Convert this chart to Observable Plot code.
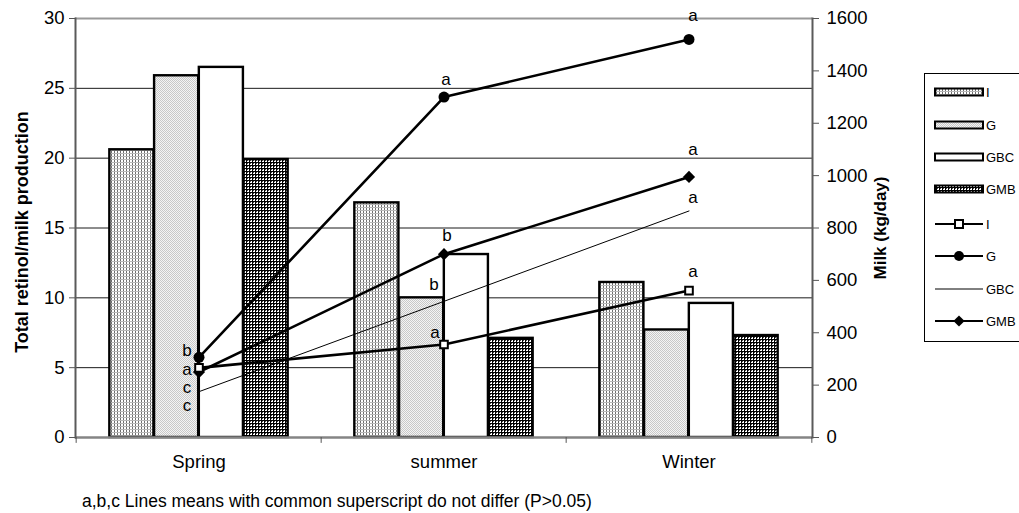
<!DOCTYPE html>
<html>
<head>
<meta charset="utf-8">
<script src="https://cdn.jsdelivr.net/npm/d3@7"></script>
<script src="https://cdn.jsdelivr.net/npm/@observablehq/plot@0.6"></script>
<style>
  html, body { margin: 0; padding: 0; background: #fff; }
  #wrap { position: relative; width: 1019px; height: 513px; overflow: hidden; font-family: "Liberation Sans", Arial, sans-serif; }
  #chart { position: absolute; left: 0; top: 0; }
  #legend { position: absolute; left: 924px; top: 73px; }
  #caption { position: absolute; left: 82px; top: 491px; font-size: 17.5px; color: #000; white-space: nowrap; }
</style>
</head>
<body>
<div id="wrap">
  <svg width="0" height="0" style="position:absolute">
    <defs>
      <pattern id="pI" width="3" height="3" patternUnits="userSpaceOnUse">
        <rect width="3" height="3" fill="#fff"/>
        <rect x="0" y="0" width="1" height="3" fill="#6e6e6e"/>
        <rect x="0" y="0" width="3" height="1" fill="#b8b8b8"/>
      </pattern>
      <pattern id="pG" width="2" height="2" patternUnits="userSpaceOnUse">
        <rect width="2" height="2" fill="#f4f4f4"/>
        <rect x="0" y="0" width="1" height="1" fill="#c8c8c8"/>
        <rect x="1" y="1" width="1" height="1" fill="#c8c8c8"/>
      </pattern>
      <pattern id="pGMB" width="3" height="3" patternUnits="userSpaceOnUse">
        <rect width="3" height="3" fill="#fff"/>
        <rect x="0" y="0" width="1" height="3" fill="#000"/>
        <rect x="0" y="0" width="3" height="1" fill="#000"/>
        <rect x="1" y="1" width="1" height="1" fill="#444"/>
      </pattern>
    </defs>
  </svg>
  <div id="chart"></div>
  <div id="legend"></div>
  <div id="caption">a,b,c Lines means with common superscript do not differ (P&gt;0.05)</div>
</div>
<script>
// ---------- data ----------
const seasons = ["Spring", "summer", "Winter"];
const seriesNames = ["I", "G", "GBC", "GMB"];

// Total retinol / milk production (bars, left axis)
const retinolI   = [20.6, 16.8, 11.1];
const retinolG   = [25.9, 10.0, 7.7];
const retinolGBC = [26.5, 13.1, 9.6];
const retinolGMB = [19.9, 7.1, 7.3];

// Milk (kg/day) (lines, right axis)
const milkI   = [266, 355, 561];
const milkG   = [306, 1300, 1520];
const milkGBC = [175, 520, 865];
const milkGMB = [250, 700, 995];

// Significance letters on the lines
const lettersI   = ["a", "a", "a"];
const lettersG   = ["b", "a", "a"];
const lettersGBC = ["c", "b", "a"];
const lettersGMB = ["c", "b", "a"];

const leftTicks = [0, 5, 10, 15, 20, 25, 30];
const rightTicks = [0, 200, 400, 600, 800, 1000, 1200, 1400, 1600];

// ---------- build tables ----------
const retinol = {I: retinolI, G: retinolG, GBC: retinolGBC, GMB: retinolGMB};
const milk = {I: milkI, G: milkG, GBC: milkGBC, GMB: milkGMB};
const letters = {I: lettersI, G: lettersG, GBC: lettersGBC, GMB: lettersGMB};

const Y_MAX = 30, MILK_MAX = 1600;
const toLeft = v => v * Y_MAX / MILK_MAX;

const barRows = seriesNames.flatMap(s => seasons.map((season, i) => ({series: s, season, value: retinol[s][i]})));
const lineRows = seriesNames.flatMap(s => seasons.map((season, i) => ({series: s, season, milk: milk[s][i], letter: letters[s][i]})));

// ---------- layout ----------
const W = 1019, H = 455;
const mL = 75, mR = 207, mT = 18, mB = 18;
const bw = (W - mL - mR) / seasons.length;
const groupW = 179, barW = groupW / 4, pad = (bw - groupW) / 2;

const fills = {I: "url(#pI)", G: "url(#pG)", GBC: "#ffffff", GMB: "url(#pGMB)"};

// label offsets (styling)
const labelOffset = {
  "G|Spring": [-12, -7], "I|Spring": [-12, 2], "GMB|Spring": [-12, 16], "GBC|Spring": [-12, 14],
  "G|summer": [2, -18], "GMB|summer": [3, -19], "GBC|summer": [-10, -17], "I|summer": [-9, -12],
  "G|Winter": [4, -24], "GMB|Winter": [4, -27], "GBC|Winter": [4, -13], "I|Winter": [4, -19]
};

const font = "'Liberation Sans', Arial, sans-serif";
const tickFont = 18.5;

const marks = [];
// top border & gridlines
marks.push(Plot.ruleY([Y_MAX], {stroke: "#9a9a9a", strokeWidth: 2}));
marks.push(Plot.ruleY(leftTicks.filter(t => t > 0 && t < Y_MAX), {stroke: "#1a1a1a", strokeWidth: 1}));
// bars
seriesNames.forEach((s, k) => {
  marks.push(Plot.barY(barRows.filter(d => d.series === s), {
    x: "season", y: "value",
    fill: fills[s], stroke: "#000", strokeWidth: 2.4,
    insetLeft: pad + k * barW, insetRight: bw - pad - (k + 1) * barW
  }));
});
// axis frame lines
marks.push(Plot.ruleY([0], {stroke: "#858585", strokeWidth: 2.5}));
marks.push(Plot.frame({anchor: "left", stroke: "#5a5a5a", strokeWidth: 2}));
marks.push(Plot.frame({anchor: "right", stroke: "#5a5a5a", strokeWidth: 2}));
// category boundary ticks
marks.push(Plot.ruleX(seasons, {x: d => d, dx: -bw / 2, y1: 0, y2: -0.42, stroke: "#555", strokeWidth: 1}));
marks.push(Plot.ruleX([seasons[seasons.length - 1]], {x: d => d, dx: bw / 2, y1: 0, y2: -0.42, stroke: "#555", strokeWidth: 1}));
// axes
marks.push(Plot.axisY(leftTicks, {anchor: "left", tickSize: 6, tickPadding: 5, fontSize: tickFont, label: null, stroke: "#555"}));
marks.push(Plot.axisY(rightTicks.map(toLeft), {anchor: "right", tickSize: 6, tickPadding: 8, fontSize: tickFont, label: null, stroke: "#555",
  tickFormat: d => String(Math.round(d * MILK_MAX / Y_MAX))}));
marks.push(Plot.axisX({tickSize: 0, tickPadding: 17, fontSize: tickFont, label: null}));
// lines
const lineStyle = {I: 2.6, G: 2.6, GBC: 1, GMB: 2.6};
seriesNames.forEach(s => {
  marks.push(Plot.line(lineRows.filter(d => d.series === s), {
    x: "season", y: d => toLeft(d.milk), stroke: "#000", strokeWidth: lineStyle[s]
  }));
});
marks.push(Plot.dot(lineRows.filter(d => d.series === "G"), {x: "season", y: d => toLeft(d.milk), symbol: "circle", r: 5.5, fill: "#000"}));
marks.push(Plot.dot(lineRows.filter(d => d.series === "GMB"), {x: "season", y: d => toLeft(d.milk), symbol: "diamond2", r: 5.5, fill: "#000"}));
marks.push(Plot.dot(lineRows.filter(d => d.series === "I"), {x: "season", y: d => toLeft(d.milk), symbol: "square", r: 4.3, fill: "#fff", stroke: "#000", strokeWidth: 2}));
// letters
lineRows.forEach(d => {
  const [ox, oy] = labelOffset[d.series + "|" + d.season];
  marks.push(Plot.text([d], {x: "season", y: r => toLeft(r.milk), text: "letter", dx: ox, dy: oy,
    fontSize: 17, fill: "#000", textAnchor: "middle", lineAnchor: "middle"}));
});
// axis titles
marks.push(Plot.text(["Total retinol/milk production"], {frameAnchor: "left", dx: -53, dy: 4, rotate: -90,
  fontSize: 18, fontWeight: "bold", textAnchor: "middle", lineAnchor: "middle", fill: "#000"}));
marks.push(Plot.text(["Milk (kg/day)"], {frameAnchor: "right", dx: 68, rotate: -90,
  fontSize: 17, fontWeight: "bold", textAnchor: "middle", lineAnchor: "middle", fill: "#000"}));

const chart = Plot.plot({
  width: W, height: H,
  marginLeft: mL, marginRight: mR, marginTop: mT, marginBottom: mB,
  style: {fontFamily: font, fontSize: "18px", color: "#000", background: "#fff", overflow: "visible"},
  x: {type: "band", domain: seasons, paddingInner: 0, paddingOuter: 0, axis: null},
  y: {domain: [0, Y_MAX], axis: null},
  marks
});
document.getElementById("chart").appendChild(chart);

// ---------- legend ----------
const lg = d3.select("#legend").append("svg").attr("width", 95).attr("height", 270)
  .style("font-family", font).style("font-size", "13px");
lg.append("rect").attr("x", 0.5).attr("y", 0.5).attr("width", 140).attr("height", 268)
  .attr("fill", "#fff").attr("stroke", "#000").attr("stroke-width", 1);
const rowY = [19, 52, 84, 116, 151, 183, 216, 248];
seriesNames.forEach((s, k) => {
  const y = rowY[k];
  lg.append("rect").attr("x", 11).attr("y", y - 3.5).attr("width", 48).attr("height", 7)
    .attr("fill", fills[s]).attr("stroke", "#000").attr("stroke-width", 2);
  lg.append("text").attr("x", 62).attr("y", y).attr("dy", "0.35em").attr("fill", "#000").text(s);
});
seriesNames.forEach((s, k) => {
  const y = rowY[4 + k];
  lg.append("line").attr("x1", 11).attr("x2", 59).attr("y1", y).attr("y2", y)
    .attr("stroke", "#000").attr("stroke-width", s === "GBC" ? 1 : 2);
  if (s === "I") lg.append("rect").attr("x", 31).attr("y", y - 4).attr("width", 8).attr("height", 8)
    .attr("fill", "#fff").attr("stroke", "#000").attr("stroke-width", 2);
  if (s === "G") lg.append("circle").attr("cx", 35).attr("cy", y).attr("r", 5).attr("fill", "#000");
  if (s === "GMB") lg.append("path").attr("d", d3.symbol(d3.symbolDiamond2, 80)()).attr("transform", `translate(35,${y})`).attr("fill", "#000");
  lg.append("text").attr("x", 62).attr("y", y).attr("dy", "0.35em").attr("fill", "#000").text(s);
});
</script>
</body>
</html>
